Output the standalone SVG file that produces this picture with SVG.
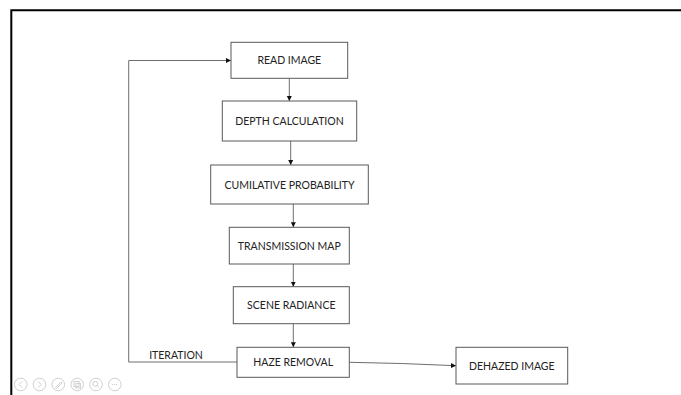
<svg xmlns="http://www.w3.org/2000/svg" width="681" height="395" viewBox="0 0 681 395">
<defs>
<style>
.box{fill:#fff;stroke:#595959;stroke-width:1}
.lbl{font-family:Lato,"Open Sans","Liberation Sans",sans-serif;font-size:10.5px;fill:#222;text-anchor:middle;dominant-baseline:central}
.con{fill:none;stroke:#6e6e6e;stroke-width:1}
.ico{fill:none;stroke:#d0d0d0;stroke-width:1}
</style>
<marker id="arr" markerWidth="6" markerHeight="6" refX="5" refY="3" orient="auto" markerUnits="userSpaceOnUse">
<path d="M0,0.5 L5,3 L0,5.5 Z" fill="#111"/>
</marker>
</defs>
<rect width="681" height="395" fill="#fff"/>
<path d="M11.3,395 V10.3 H681" fill="none" stroke="#000" stroke-width="2"/>
<g id="connectors">
<line class="con" x1="289.3" y1="78.3" x2="289.3" y2="101" marker-end="url(#arr)"/>
<line class="con" x1="290.7" y1="141" x2="290.7" y2="165" marker-end="url(#arr)"/>
<line class="con" x1="293.3" y1="204" x2="293.3" y2="227.3" marker-end="url(#arr)"/>
<line class="con" x1="293.3" y1="264" x2="293.3" y2="286.7" marker-end="url(#arr)"/>
<line class="con" x1="293.3" y1="323.7" x2="293.3" y2="347.3" marker-end="url(#arr)"/>
<path class="con" d="M237,362 H128.7 V60.5 H231" marker-end="url(#arr)"/>
<path class="con" d="M349.3,362.3 Q400,363 456,365.7" marker-end="url(#arr)"/>
<text class="lbl" x="176" y="355">ITERATION</text>
</g>
<g id="read-image"><rect class="box" x="231" y="42.3" width="116.7" height="36"/><text class="lbl" x="289.3" y="60.3">READ IMAGE</text></g>
<g id="depth-calculation"><rect class="box" x="222.3" y="101" width="134.4" height="40"/><text class="lbl" x="289.5" y="121">DEPTH CALCULATION</text></g>
<g id="cumilative-probability"><rect class="box" x="210.7" y="165" width="157.6" height="39"/><text class="lbl" x="289.5" y="184.5">CUMILATIVE PROBABILITY</text></g>
<g id="transmission-map"><rect class="box" x="229.3" y="227.3" width="120" height="36.7"/><text class="lbl" x="289.3" y="245.7">TRANSMISSION MAP</text></g>
<g id="scene-radiance"><rect class="box" x="233.3" y="286.7" width="116" height="37"/><text class="lbl" x="291.3" y="305.2">SCENE RADIANCE</text></g>
<g id="haze-removal"><rect class="box" x="237" y="347.3" width="112.3" height="30"/><text class="lbl" x="293.2" y="362.3">HAZE REMOVAL</text></g>
<g id="dehazed-image"><rect class="box" x="456" y="347.3" width="111.7" height="36.7"/><text class="lbl" x="511.8" y="365.7">DEHAZED IMAGE</text></g>
<g id="nav-icons">
<circle class="ico" cx="20.7" cy="384.5" r="6.3"/>
<path class="ico" d="M22,381.5 L19,384.5 L22,387.5"/>
<circle class="ico" cx="39.5" cy="384.5" r="6.3"/>
<path class="ico" d="M38.2,381.5 L41.2,384.5 L38.2,387.5"/>
<circle class="ico" cx="58.3" cy="384.5" r="6.3"/>
<path class="ico" d="M55.5,387.5 L61,382 L62,383 L56.5,388.5 Z"/>
<circle class="ico" cx="77.2" cy="384.5" r="6.3"/>
<rect class="ico" x="74" y="381.5" width="5" height="5"/><rect class="ico" x="76" y="383.5" width="4.5" height="4.5"/>
<circle class="ico" cx="96" cy="384.5" r="6.3"/>
<circle class="ico" cx="95.3" cy="383.8" r="2.5"/><path class="ico" d="M97,385.5 L99,387.5"/>
<circle class="ico" cx="114.8" cy="384.5" r="6.3"/>
<path class="ico" d="M112,384.5 H117.6" stroke-dasharray="1,1"/>
</g>
</svg>
